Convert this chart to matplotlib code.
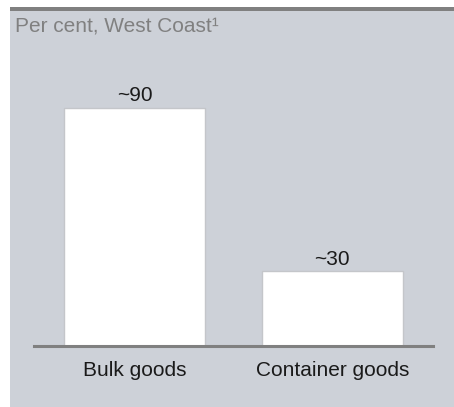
import matplotlib
matplotlib.use("Agg")
import matplotlib.pyplot as plt
from matplotlib.patches import Rectangle

categories = ["Bulk goods", "Container goods"]
values = [90, 28]
value_labels = ["~90", "~30"]
subtitle = "Per cent, West Coast\u00b9"
cut_title = "Share of total volume"

plt.rcParams['font.family'] = ['Liberation Sans', 'DejaVu Sans']

W, H = 454, 407
fig = plt.figure(figsize=(W / 100, H / 100), dpi=100)
fig.patch.set_facecolor("white")

# panel background
fig.add_artist(Rectangle((10 / W, -0.02), 1.02 - 10 / W, (H - 11) / H + 0.02,
                         transform=fig.transFigure, facecolor="#cdd1d8",
                         edgecolor="none", zorder=0))
# top rule
fig.add_artist(Rectangle((10 / W, (H - 11) / H), 1.02 - 10 / W, 4 / H,
                         transform=fig.transFigure, facecolor="#808080",
                         edgecolor="none", zorder=0))
# cut-off title at the very top (only its lowest pixels are visible)
fig.text(20 / W, (H + 1.5) / H, cut_title, fontsize=15, fontweight="bold",
         color="#555555", ha="left", va="baseline")

fig.text(15 / W, (H - 31) / H, subtitle, fontsize=15, color="#808080",
         ha="left", va="baseline")

ax_left, ax_right = 34, 433
ax_bottom = H - 345.5
ax_top = H - 60
ax = fig.add_axes([ax_left / W, ax_bottom / H, (ax_right - ax_left) / W,
                   (ax_top - ax_bottom) / H])
ax.set_facecolor("none")

x = list(range(len(categories)))
bars = ax.bar(x, values, width=0.714, color="white", edgecolor="#c4c6ca",
              linewidth=1.0, zorder=2)
for b, lab in zip(bars, value_labels):
    ax.annotate(lab, (b.get_x() + b.get_width() / 2, b.get_height()),
                xytext=(0, 4.5), textcoords="offset points", ha="center",
                va="baseline", fontsize=15, color="#1a1a1a")

ax.set_xlim(-0.51, 1.51)
ax.set_ylim(0, 108)
for s in ["left", "right", "top"]:
    ax.spines[s].set_visible(False)
ax.spines["bottom"].set_color("#808080")
ax.spines["bottom"].set_linewidth(2.2)
ax.spines["bottom"].set_zorder(3)
ax.set_yticks([])
ax.set_xticks(x)
ax.set_xticklabels(categories, fontsize=15, color="#1a1a1a")
ax.tick_params(axis="x", length=0, pad=11)

fig.savefig("out.png", dpi=100)
